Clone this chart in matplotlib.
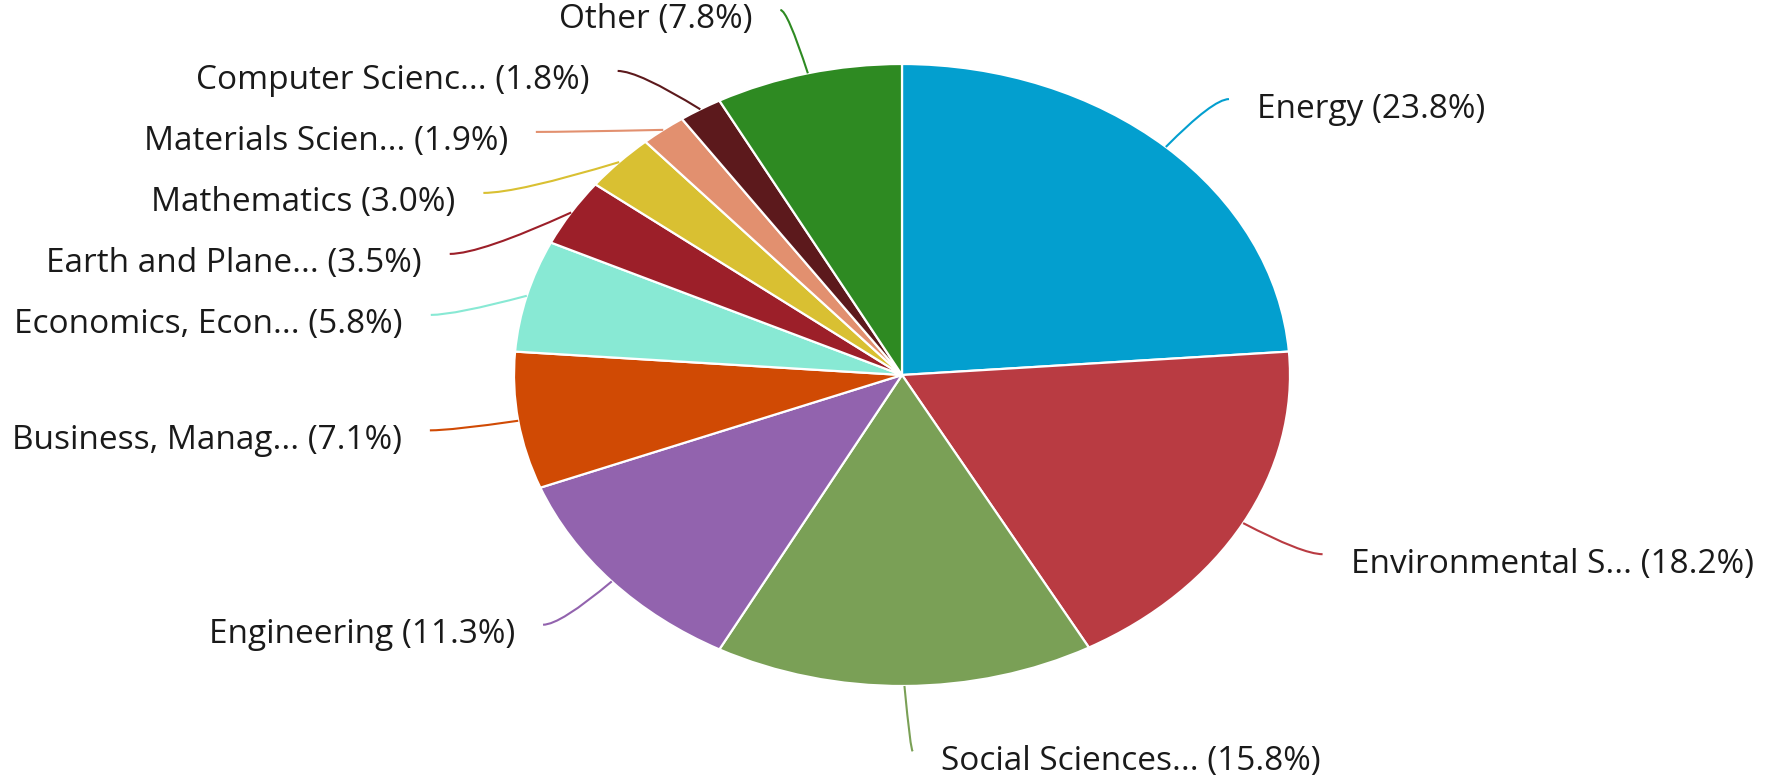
import numpy as np
import matplotlib.pyplot as plt
from matplotlib.path import Path
from matplotlib.patches import PathPatch

labels = ["Energy", "Environmental S...", "Social Sciences...", "Engineering",
          "Business, Manag...", "Economics, Econ...", "Earth and Plane...",
          "Mathematics", "Materials Scien...", "Computer Scienc...", "Other"]
shares = [23.8, 18.2, 15.8, 11.3, 7.1, 5.8, 3.5, 3.0, 1.9, 1.8, 7.8]
colors = ["#039fcf", "#b93b42", "#7aa056", "#9263ae", "#d04a04", "#88e9d4",
          "#9c1f29", "#d9c032", "#e2906f", "#5c191c", "#2e8a22"]

W, H = 1770, 778
CX, CY = 902, 375      # pie centre, pixels from top-left
RX, RY = 388, 311      # ellipse radii, pixels


def main():
    fig = plt.figure(figsize=(W / 100, H / 100), dpi=100)
    ax = fig.add_axes([0, 0, 1, 1])
    wedges, _ = ax.pie(shares, colors=colors, startangle=90, counterclock=False,
                       wedgeprops=dict(edgecolor="white", linewidth=1.6))
    # stretch the pie into an ellipse
    ax.set_aspect("auto")
    ax.set_xlim(-CX / RX, (W - CX) / RX)
    ax.set_ylim(-(H - CY) / RY, CY / RY)
    ax.axis("off")

    r_end = 1.21
    step = 61 / RY
    mids = [np.deg2rad((w.theta1 + w.theta2) / 2) for w in wedges]
    ends = [(r_end * np.cos(t), r_end * np.sin(t)) for t in mids]

    # push left-side labels apart, top to bottom
    left = [i for i, t in enumerate(mids) if np.cos(t) < 0]
    left.sort(key=lambda i: -ends[i][1])
    prev = None
    for i in left:
        y = ends[i][1]
        if prev is not None:
            y = min(y, prev - step)
        x = -r_end * np.sqrt(max(0.0, 1 - (y / r_end) ** 2))
        ends[i] = (x, y)
        prev = y

    for i, t in enumerate(mids):
        side = 1 if np.cos(t) >= 0 else -1
        sx, sy = np.cos(t), np.sin(t)
        ex, ey = ends[i]
        ex += side * 0.02
        # bend the leader so it finishes roughly level
        cx, cy = sx + 0.75 * (ex - sx), ey
        path = Path([(sx, sy), (cx, cy), (ex, ey)],
                    [Path.MOVETO, Path.CURVE3, Path.CURVE3])
        ax.add_patch(PathPatch(path, fc="none", ec=colors[i], lw=1.5))
        ax.text(ex + side * 28 / RX, ey - 10 / RY,
                "{} ({:.1f}%)".format(labels[i], shares[i]),
                ha="left" if side > 0 else "right", va="center",
                fontsize=24, family="Open Sans", color="#1a1a1a")

    fig.savefig("out.png", dpi=100, facecolor="white")


if __name__ == "__main__":
    main()
